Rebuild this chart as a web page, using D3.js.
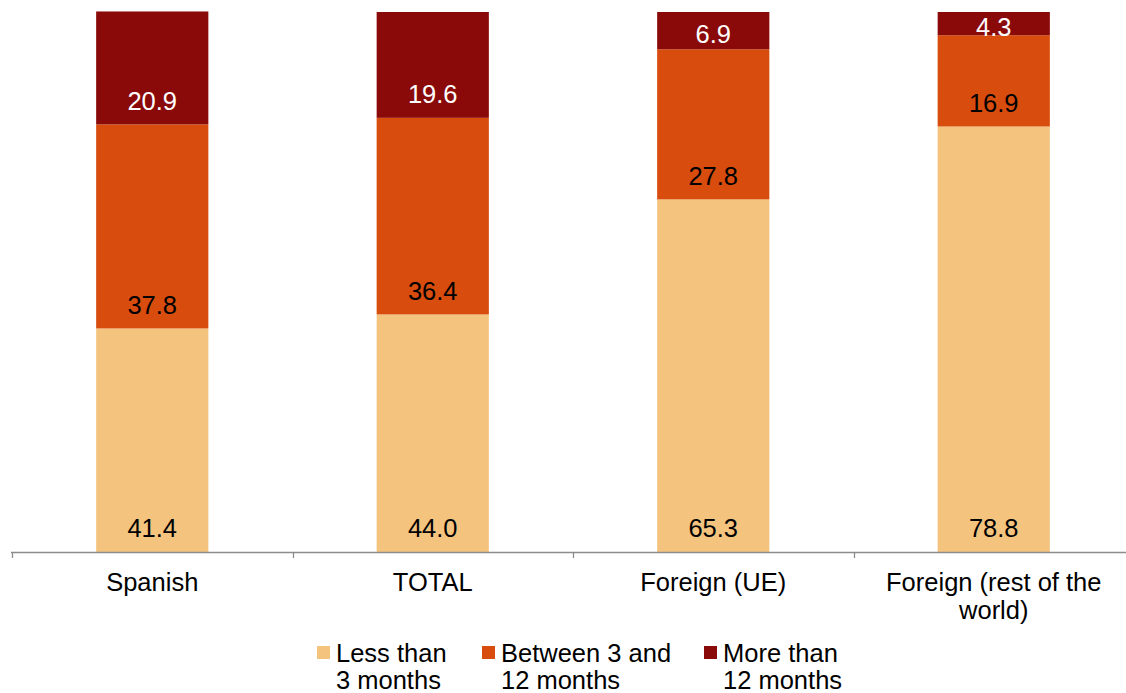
<!DOCTYPE html>
<html>
<head>
<meta charset="utf-8">
<script src="https://cdn.jsdelivr.net/npm/d3@7"></script>
<style>
html,body{margin:0;padding:0;background:#fff;}
svg{display:block;font-family:"Liberation Sans",Arial,sans-serif;}
</style>
</head>
<body>
<svg id="chart" width="1126" height="693"></svg>
<script>
const categories = ["Spanish", "TOTAL", "Foreign (UE)", "Foreign (rest of the world)"];
const categoryLines = [["Spanish"], ["TOTAL"], ["Foreign (UE)"], ["Foreign (rest of the", "world)"]];
const seriesNames = ["Less than 3 months", "Between 3 and 12 months", "More than 12 months"];
const seriesLines = [["Less than", "3 months"], ["Between 3 and", "12 months"], ["More than", "12 months"]];
const lessThan3 = [41.4, 44.0, 65.3, 78.8];
const between3and12 = [37.8, 36.4, 27.8, 16.9];
const moreThan12 = [20.9, 19.6, 6.9, 4.3];
const colors = ["#F4C47F", "#D84C0E", "#8A0A0A"];
const labelColors = ["#000", "#000", "#fff"];

const svg = d3.select("#chart");
const baseY = 552, topY = 12;
const fs = 25.5;
const x = d3.scaleBand().domain(categories).range([12, 1134]).paddingInner(0.6).paddingOuter(0.3);
const y = d3.scaleLinear().domain([0, 100]).range([baseY, topY]);

const rows = categories.map((c, i) => ({cat: c, s0: lessThan3[i], s1: between3and12[i], s2: moreThan12[i]}));
const stack = d3.stack().keys(["s0", "s1", "s2"]);
const stacked = stack(rows);

const g = svg.append("g");
stacked.forEach((layer, li) => {
  g.selectAll(".bar" + li).data(layer).enter().append("rect")
    .attr("x", d => x(d.data.cat))
    .attr("width", x.bandwidth())
    .attr("y", d => y(d[1]))
    .attr("height", d => y(d[0]) - y(d[1]))
    .attr("fill", colors[li]);
});
stacked.forEach((layer, li) => {
  g.selectAll(".lab" + li).data(layer).enter().append("text")
    .attr("x", d => x(d.data.cat) + x.bandwidth() / 2)
    .attr("y", d => {
      const bottom = y(d[0]), top = y(d[1]);
      return Math.max(bottom - 24, (top + bottom) / 2 + 3.5);
    })
    .attr("dy", "0.36em")
    .attr("text-anchor", "middle")
    .attr("font-size", fs)
    .attr("fill", labelColors[li])
    .text(d => (d[1] - d[0]).toFixed(1));
});

// axis
const step = x.step();
const axisG = svg.append("g");
axisG.append("line").attr("x1", 11).attr("x2", 1126).attr("y1", baseY + 0.5).attr("y2", baseY + 0.5)
  .attr("stroke", "#8c8c8c").attr("stroke-width", 1.3);
categories.forEach((c, i) => {
  const tx = Math.round(x(c) - step * 0.3) + 0.5;
  axisG.append("line").attr("x1", tx).attr("x2", tx).attr("y1", baseY).attr("y2", baseY + 6)
    .attr("stroke", "#8c8c8c").attr("stroke-width", 1.3);
});
categories.forEach((c, i) => {
  const t = axisG.append("text")
    .attr("text-anchor", "middle")
    .attr("font-size", fs)
    .attr("fill", "#000");
  categoryLines[i].forEach((ln, k) => {
    t.append("tspan").attr("x", x(c) + x.bandwidth() / 2).attr("y", 591 + k * 28).text(ln);
  });
});

// legend
const legendX = [317, 482, 704];
const leg = svg.append("g");
seriesNames.forEach((s, i) => {
  leg.append("rect").attr("x", legendX[i]).attr("y", 646).attr("width", 13).attr("height", 13).attr("fill", colors[i]);
  const t = leg.append("text").attr("font-size", fs).attr("fill", "#000");
  seriesLines[i].forEach((ln, k) => {
    t.append("tspan").attr("x", legendX[i] + 19).attr("y", 662 + k * 27).text(ln);
  });
});
</script>
</body>
</html>
